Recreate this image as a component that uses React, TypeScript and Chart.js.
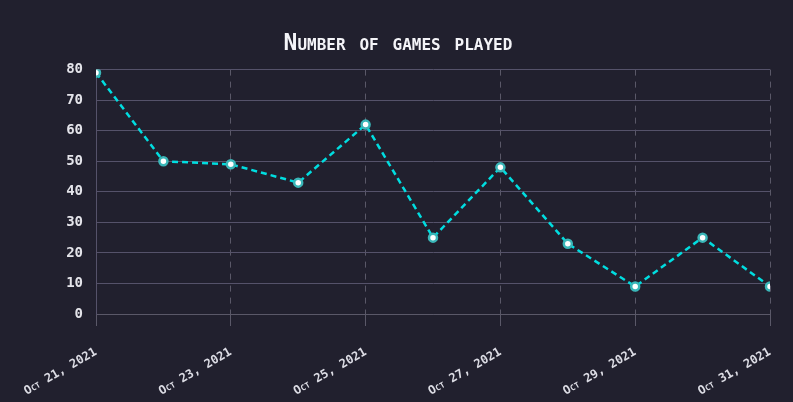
import React, { useEffect, useRef } from "react";
import { Chart, registerables } from "chart.js";

Chart.register(...registerables);

const dates = [
  "Oct 21, 2021", "Oct 22, 2021", "Oct 23, 2021", "Oct 24, 2021", "Oct 25, 2021",
  "Oct 26, 2021", "Oct 27, 2021", "Oct 28, 2021", "Oct 29, 2021", "Oct 30, 2021", "Oct 31, 2021",
];
const games = [79, 50, 49, 43, 62, 25, 48, 23, 9, 25, 9];
const yTicks = [0, 10, 20, 30, 40, 50, 60, 70, 80];
const title = "Number of games played";

const BG = "#21202e";
const FONT = "'DejaVu Sans Mono', monospace";

export default function App() {
  const ref = useRef<HTMLCanvasElement | null>(null);

  useEffect(() => {
    document.body.style.margin = "0";
    document.body.style.background = BG;
    const canvas = ref.current!;
    const chart = new Chart(canvas, {
      type: "line",
      data: {
        datasets: [
          {
            label: title,
            data: games.map((v, i) => ({ x: i, y: v })),
            borderColor: "#00dde0",
            borderWidth: 2.5,
            borderDash: [6, 4],
            pointRadius: 4,
            pointBorderWidth: 2.5,
            pointBackgroundColor: "#ffffff",
            pointBorderColor: "#3ab6b8",
            tension: 0,
          },
        ],
      },
      options: {
        animation: false,
        responsive: false,
        layout: { padding: { left: 26, right: 23, top: 30, bottom: 0 } },
        plugins: {
          legend: { display: false },
          tooltip: { enabled: false },
          title: {
            display: true,
            text: title,
            color: "#f4f4f8",
            font: { family: FONT, size: 23, weight: "small-caps bold" as any },
            padding: { top: 0, bottom: 12 },
          },
        },
        scales: {
          x: {
            type: "linear",
            min: 0,
            max: dates.length - 1,
            afterFit: (axis: any) => {
              axis.height = 88;
              axis.paddingRight = 0;
            },
            ticks: {
              stepSize: 2,
              color: "#dcdce4",
              font: { family: FONT, size: 12, weight: "small-caps bold" as any },
              maxRotation: 30,
              minRotation: 30,
              padding: 19,
              callback: (v: any) => dates[Number(v)] ?? "",
            },
            grid: {
              color: "#5a5868",
              lineWidth: 1,
              tickLength: 12,
              drawTicks: true,
            },
            border: { display: true, color: "#5a5868", dash: [6, 6] },
          },
          y: {
            min: 0,
            max: 80,
            afterBuildTicks: (axis: any) => {
              axis.ticks = yTicks.map((v) => ({ value: v }));
            },
            afterFit: (axis: any) => {
              axis.width = 70;
            },
            ticks: {
              color: "#e4e4ea",
              font: { family: FONT, size: 14, weight: "small-caps bold" as any },
              padding: 7,
            },
            grid: {
              color: "#55526a",
              lineWidth: 1,
              tickLength: 6,
              tickColor: "transparent",
            },
            border: { display: true, color: "#55526a" },
          },
        },
      },
    });
    return () => chart.destroy();
  }, []);

  return (
    <div style={{ width: 793, height: 402, background: BG }}>
      <canvas ref={ref} width={793} height={402} style={{ display: "block" }} />
    </div>
  );
}
